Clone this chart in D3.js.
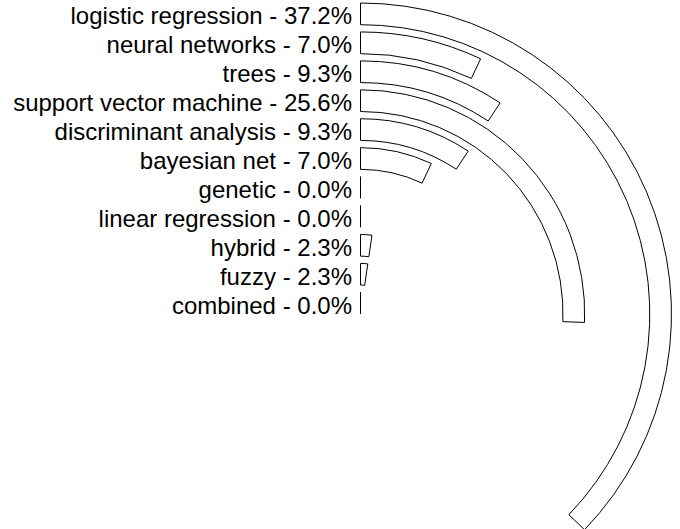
<!DOCTYPE html>
<html>
<head>
<meta charset="utf-8">
<script src="https://cdn.jsdelivr.net/npm/d3@7"></script>
<style>
  body { margin: 0; background: #fff; }
</style>
</head>
<body>
<div id="vis"></div>
<script>
var width = 680,
    height = 529,
    cx = 360.5,
    cy = 314;

var categories = ["logistic regression", "neural networks", "trees",
                  "support vector machine", "discriminant analysis",
                  "bayesian net", "genetic", "linear regression",
                  "hybrid", "fuzzy", "combined"];
var percents = [37.2, 7.0, 9.3, 25.6, 9.3, 7.0, 0.0, 0.0, 2.3, 2.3, 0.0];

var data = categories.map(function(c, i) { return {name: c, value: percents[i]}; });

var svg = d3.select("#vis").append("svg")
    .attr("width", width)
    .attr("height", height)
  .append("g")
    .attr("transform", "translate(" + cx + "," + cy + ")");

// outermost ring is the first category
var r = d3.scaleBand()
    .domain(categories.slice().reverse())
    .range([0, 311])
    .paddingInner(0.25)
    .paddingOuter(0);

var angle = d3.scaleLinear()
    .domain([0, 100])
    .range([0, 2 * Math.PI]);

var arc = d3.arc()
    .innerRadius(function(d) { return r(d.name); })
    .outerRadius(function(d) { return r(d.name) + r.bandwidth(); })
    .startAngle(0)
    .endAngle(function(d) { return angle(d.value); });

svg.selectAll(".bar")
    .data(data)
  .enter().append("path")
    .attr("class", "bar")
    .attr("d", arc)
    .style("fill", "#fff")
    .style("stroke", "#000")
    .style("stroke-width", 1);

svg.selectAll(".label")
    .data(data)
  .enter().append("text")
    .attr("class", "label")
    .attr("x", -8.5)
    .attr("y", function(d) { return -(r(d.name) + r.bandwidth() / 2) + 10.5; })
    .style("text-anchor", "end")
    .style("font-family", "'Liberation Sans', Arial, sans-serif")
    .style("font-size", "24px")
    .style("fill", "#000")
    .text(function(d) { return d.name + " - " + d.value.toFixed(1) + "%"; });
</script>
</body>
</html>
